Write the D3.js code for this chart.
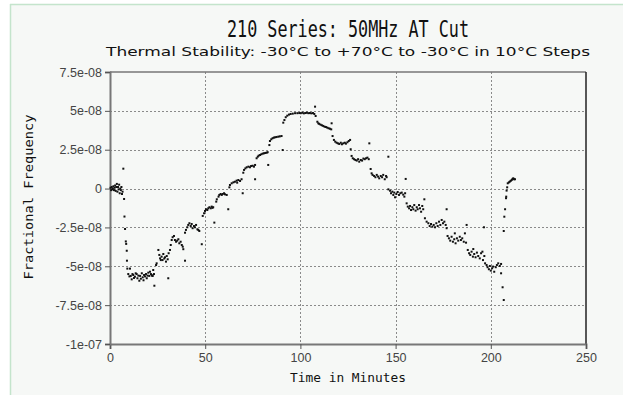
<!DOCTYPE html>
<html><head><meta charset="utf-8">
<script src="https://cdn.jsdelivr.net/npm/d3@7"></script>
<style>body{margin:0;background:#fff}svg{display:block}</style>
</head><body>
<svg id="chart" width="623" height="395"></svg>
<script>
// ---- data (time in minutes, fractional frequency in units of 1e-8) ----
const title = "210 Series: 50MHz AT Cut";
const subtitle = "Thermal Stability: -30°C to +70°C to -30°C in 10°C Steps";
const xLabel = "Time in Minutes";
const yLabel = "Fractional Frequency";
const xTicks = [0, 50, 100, 150, 200, 250];
const yTicks = [7.5e-8, 5e-8, 2.5e-8, 0, -2.5e-8, -5e-8, -7.5e-8, -1e-7];
const yTickLabels = ["7.5e-08", "5e-08", "2.5e-08", "0", "-2.5e-08", "-5e-08", "-7.5e-08", "-1e-07"];

const startSegment = [[0.3,0.05],[0.6,-0.1],[0.9,0.1],[1.2,-0.05],[1.5,0.0],[1.8,0.15],[2.1,-0.1],[2.4,0.05],[2.7,0.2],[3.0,-0.15],[3.3,0.1],[3.6,0.3],[3.9,-0.2],[4.2,0.1],[4.5,-0.05],[4.8,0.25],[5.1,-0.3],[5.4,0.0],[5.7,-0.1],[6.0,0.1],[6.3,-0.35],[6.6,-0.2],
  [7.0,1.28],[7.4,-0.67],[7.6,-1.8],[7.9,-2.6],[8.3,-3.4],[8.5,-3.56],[8.8,-4.0],[8.9,-4.64],[9.1,-5.15],[10.5,-5.15]];
const stepMinus30 = [[9.6,-5.5],[10.2,-5.65],[10.9,-5.62],[11.4,-5.84],[11.8,-5.5],[12.2,-5.56],[12.6,-5.75],[13.1,-5.67],[13.5,-5.45],[14.0,-5.5],[14.4,-5.77],[14.9,-5.6],[15.4,-5.93],[15.8,-5.62],[16.2,-5.8],[16.7,-5.45],[17.2,-5.71],[17.6,-5.9],[17.9,-5.56],[18.4,-5.65],[18.9,-5.5],[19.3,-5.77],[19.7,-5.6],[20.1,-5.41],[20.6,-5.62],[21.0,-5.35],[21.5,-5.5],[21.9,-5.58],[22.2,-5.6],[22.4,-5.62],[22.7,-5.24],[23.1,-5.5],[23.3,-6.25],[30.6,-5.77]];
const stepMinus20 = [[24.2,-4.92],[24.5,-4.81],[25.4,-3.95],[25.9,-4.27],[26.3,-4.49],[26.7,-4.6],[27.1,-4.38],[27.6,-4.6],[28.0,-4.21],[28.5,-4.5],[28.9,-4.42],[29.4,-4.7],[29.8,-4.34],[30.3,-4.55],[30.8,-4.16],[31.5,-3.95]];
const stepMinus10 = [[31.9,-3.63],[32.4,-3.31],[32.9,-3.13],[33.6,-3.05],[34.1,-3.31],[34.7,-3.42],[35.3,-3.35],[35.9,-3.26],[36.4,-3.52],[37.1,-3.42],[37.7,-3.63],[38.2,-3.74],[38.5,-3.9],[39.4,-4.64]];
const step0 = [[39.4,-2.84],[39.9,-2.66],[40.6,-2.49],[41.1,-2.34],[41.7,-2.23],[42.4,-2.41],[42.9,-2.28],[43.4,-2.55],[44.1,-2.41],[44.6,-2.49],[45.2,-2.34],[45.9,-2.62],[46.4,-2.66],[46.9,-2.73],[48.2,-3.58]];
const step10 = [[48.7,-1.76],[49.4,-1.59],[49.9,-1.44],[50.4,-1.33],[51.1,-1.38],[51.6,-1.27],[52.2,-1.2],[52.9,-1.27],[53.4,-1.16],[53.8,-1.24],[54.2,-1.2],[54.8,-2.19]];
const step20 = [[55.8,-0.84],[56.1,-0.69],[57.0,-0.52],[57.4,-0.41],[58.1,-0.35],[58.7,-0.41],[59.2,-0.35],[59.9,-0.3],[60.4,-0.37],[61.3,-0.41],[62.1,-1.33]];
const step30 = [[62.7,0.08],[63.0,0.23],[63.9,0.34],[64.8,0.4],[65.6,0.44],[66.5,0.51],[66.8,0.38],[67.4,0.55],[68.3,0.49],[69.1,0.6],[69.7,-0.3]];
const step40 = [[70.0,1.02],[70.4,1.2],[71.1,1.3],[71.8,1.37],[72.7,1.41],[73.5,1.37],[74.1,1.45],[74.9,1.47],[75.6,1.41],[76.2,1.52],[76.2,0.6]];
const step50 = [[77.0,1.95],[77.6,2.05],[78.1,2.12],[78.8,2.16],[79.5,2.21],[80.2,2.25],[80.9,2.27],[81.6,2.29],[82.3,2.31],[82.8,2.34],[83.1,1.52]];
const step60 = [[83.7,2.8],[84.0,3.06],[84.7,3.17],[85.4,3.24],[86.1,3.28],[86.8,3.3],[87.5,3.32],[88.4,3.34],[89.2,3.36],[90.1,3.38],[90.7,2.48]];
const step70 = [[91.0,4.24],[91.6,4.41],[92.3,4.59],[93.1,4.69],[94.0,4.76],[94.9,4.8],[96.0,4.82],[97.2,4.85],[98.4,4.85],[99.4,4.86],[100.2,4.85],[101.0,4.88],[101.8,4.84],[102.6,4.86],[103.4,4.88],[104.2,4.85],[105.0,4.86],[105.8,4.84],[106.6,4.86],[107.3,4.8],[107.7,5.27],[108.0,4.67]];
const step60down = [[108.9,4.3],[109.4,4.2],[109.9,4.16],[110.6,4.11],[111.3,4.07],[112.0,4.03],[112.7,3.98],[113.4,3.96],[114.1,3.92],[114.8,3.88],[115.5,3.85],[116.2,3.81],[116.4,4.2]];
const step50down = [[116.9,3.38],[117.6,3.13],[118.3,3.02],[119.0,2.95],[119.7,2.91],[120.4,2.87],[121.2,2.95],[121.8,2.85],[122.5,2.91],[123.3,2.95],[123.9,2.89],[124.7,2.98],[125.4,3.06],[126.1,3.13],[126.4,2.53]];
const step40down = [[126.9,2.1],[127.5,1.95],[128.2,1.89],[128.9,1.84],[129.6,1.8],[130.3,1.89],[130.9,1.73],[131.7,1.84],[132.4,1.8],[133.1,1.93],[133.8,1.89],[134.5,1.95],[135.2,1.99],[135.9,1.89],[136.2,2.91]];
const step30down = [[136.9,1.26],[137.4,0.98],[137.9,0.88],[138.7,0.81],[139.4,0.73],[140.1,0.88],[140.8,0.77],[141.4,0.66],[142.2,0.81],[142.9,0.73],[143.5,0.88],[144.3,0.6],[145.0,0.81],[145.3,0.73],[146.2,2.05]];
const step20down = [[146.2,-0.05],[147.1,-0.14],[147.6,-0.3],[148.3,-0.2],[148.8,-0.41],[149.3,-0.26],[149.7,-0.56],[150.4,-0.35],[151.1,-0.22],[151.8,-0.41],[152.5,-0.3],[153.2,-0.26],[154.0,-0.39],[154.6,-0.52],[155.0,-0.3],[155.3,0.62]];
const step10down = [[155.8,-0.95],[156.4,-1.16],[157.1,-1.27],[157.6,-1.12],[158.1,-1.38],[158.8,-1.2],[159.3,-1.33],[159.8,-1.06],[160.5,-1.42],[161.1,-1.2],[161.6,-1.33],[162.3,-1.06],[162.8,-1.27],[163.4,-1.49],[164.0,-1.12],[164.5,-1.33],[165.1,-0.69]];
const step0down = [[165.4,-1.91],[166.3,-2.13],[167.2,-2.23],[167.9,-2.41],[168.6,-2.28],[169.3,-2.45],[170.0,-2.34],[170.7,-2.49],[171.4,-2.23],[172.1,-2.41],[172.8,-2.13],[173.5,-2.34],[174.2,-2.02],[174.9,-2.23],[175.6,-2.13],[176.3,-2.34],[176.8,-2.55],[176.8,-1.33]];
const stepMinus10down = [[177.3,-3.05],[178.0,-3.2],[178.7,-3.35],[179.4,-3.1],[180.1,-3.42],[180.8,-3.26],[181.1,-2.88],[181.5,-3.52],[182.2,-3.2],[182.9,-3.35],[183.7,-3.1],[184.3,-3.31],[185.0,-3.2],[185.8,-3.42],[186.4,-2.88],[187.0,-3.48],[187.3,-2.34]];
const stepMinus20down = [[187.9,-3.95],[188.6,-4.16],[189.2,-4.27],[189.9,-4.06],[190.6,-4.38],[190.8,-3.89],[191.3,-4.21],[192.0,-4.42],[192.7,-4.12],[193.4,-4.34],[194.2,-4.49],[194.9,-4.16],[195.6,-4.06],[195.9,-4.6],[196.6,-4.34],[197.0,-4.81],[196.4,-2.49]];
const stepMinus30down = [[197.8,-4.92],[198.3,-5.06],[199.0,-5.19],[199.5,-4.98],[200.0,-5.28],[200.7,-5.13],[201.2,-5.02],[201.8,-5.35],[202.6,-5.06],[203.2,-4.92],[203.9,-4.81],[204.7,-4.98],[205.4,-4.85],[205.4,-5.45]];
const finalRecovery = [[206.2,-6.35],[206.8,-7.17],[206.8,-2.73],[207.1,-1.81],[207.5,-1.33],[208.0,-0.62],[208.1,-0.52],[208.3,-0.13],[208.6,0.08],[208.9,0.34],[209.5,0.4],[210.0,0.45],[210.5,0.5],[211.0,0.55],[211.4,0.62],[211.8,0.66],[212.2,0.6],[212.7,0.6]];

const segments = [startSegment, stepMinus30, stepMinus20, stepMinus10, step0, step10, step20, step30, step40, step50, step60, step70,
  step60down, step50down, step40down, step30down, step20down, step10down, step0down, stepMinus10down, stepMinus20down, stepMinus30down, finalRecovery];
const points = segments.flat().map(([t, v]) => ({ t, f: v * 1e-8 }));

// ---- layout ----
const svg = d3.select("#chart");
const W = 623, H = 395;
const plot = { left: 110, right: 586, top: 72, bottom: 344 };

svg.append("rect").attr("x", 10).attr("y", 4).attr("width", W - 10).attr("height", H - 4).attr("fill", "#f6f8f6");
svg.append("line").attr("x1", 10).attr("x2", W).attr("y1", 4.5).attr("y2", 4.5).attr("stroke", "#c4e4cc").attr("stroke-width", 1.5);
svg.append("line").attr("x1", 10.5).attr("x2", 10.5).attr("y1", 4).attr("y2", H).attr("stroke", "#c4e4cc").attr("stroke-width", 1.5);

const x = d3.scaleLinear().domain([0, 250]).range([plot.left, plot.right]);
const y = d3.scaleLinear().domain([-1e-7, 7.5e-8]).range([plot.bottom, plot.top]);

// grid
const grid = svg.append("g");
grid.selectAll(".vg").data(xTicks.filter(d => d > 0 && d < 250)).join("line")
  .attr("x1", d => Math.round(x(d)) + 0.5).attr("x2", d => Math.round(x(d)) + 0.5)
  .attr("y1", plot.top).attr("y2", plot.bottom)
  .attr("stroke", "#8a8a8a").attr("stroke-dasharray", "2,2");
grid.selectAll(".hg").data(yTicks.filter(d => d > -1e-7 && d < 7.5e-8)).join("line")
  .attr("y1", d => Math.round(y(d)) + 0.5).attr("y2", d => Math.round(y(d)) + 0.5)
  .attr("x1", plot.left).attr("x2", plot.right)
  .attr("stroke", "#8a8a8a").attr("stroke-dasharray", "2,2");

// frame
svg.append("line").attr("x1", plot.left).attr("x2", plot.right).attr("y1", plot.top).attr("y2", plot.top).attr("stroke", "#777").attr("stroke-width", 1.5);
svg.append("line").attr("x1", plot.right).attr("x2", plot.right).attr("y1", plot.top).attr("y2", plot.bottom).attr("stroke", "#222").attr("stroke-width", 1.5);

// axes
const xAxis = d3.axisBottom(x).tickValues(xTicks).tickSize(5).tickPadding(4).tickFormat(d3.format("d"));
const gx = svg.append("g").attr("transform", `translate(0,${plot.bottom})`).call(xAxis);
const yAxis = d3.axisLeft(y).tickValues(yTicks).tickSize(5).tickPadding(3).tickFormat((d, i) => yTickLabels[i]);
const gy = svg.append("g").attr("transform", `translate(${plot.left},0)`).call(yAxis);
[gx, gy].forEach(g => {
  g.select(".domain").attr("stroke", "#777").attr("stroke-width", 2);
  g.selectAll(".tick line").attr("stroke", "#555");
  g.selectAll(".tick text").attr("fill", "#444").style("font-family", "'Liberation Sans', Arial, sans-serif").style("font-size", "12.5px");
});

// points
svg.append("g").selectAll("rect").data(points).join("rect")
  .attr("x", d => x(d.t) - 1).attr("y", d => y(d.f) - 1)
  .attr("width", 2).attr("height", 2).attr("fill", "#111");

// titles
svg.append("text").attr("x", 348).attr("y", 37).attr("text-anchor", "middle")
  .attr("textLength", 242).attr("lengthAdjust", "spacingAndGlyphs")
  .style("font-family", "'DejaVu Sans Mono', monospace").style("font-size", "23px").attr("fill", "#111").text(title);
svg.append("text").attr("x", 348).attr("y", 56).attr("text-anchor", "middle")
  .attr("textLength", 484).attr("lengthAdjust", "spacingAndGlyphs")
  .style("font-family", "'DejaVu Sans Condensed', 'DejaVu Sans', sans-serif").style("font-size", "13px").attr("fill", "#111").text(subtitle);
svg.append("text").attr("x", 348).attr("y", 382).attr("text-anchor", "middle")
  .attr("textLength", 116).attr("lengthAdjust", "spacingAndGlyphs")
  .style("font-family", "'DejaVu Sans Mono', monospace").style("font-size", "13px").attr("fill", "#111").text(xLabel);
svg.append("text").attr("transform", "translate(33,197) rotate(-90)").attr("text-anchor", "middle")
  .attr("textLength", 165).attr("lengthAdjust", "spacingAndGlyphs")
  .style("font-family", "'DejaVu Sans Mono', monospace").style("font-size", "13px").attr("fill", "#111").text(yLabel);
</script>
</body></html>
